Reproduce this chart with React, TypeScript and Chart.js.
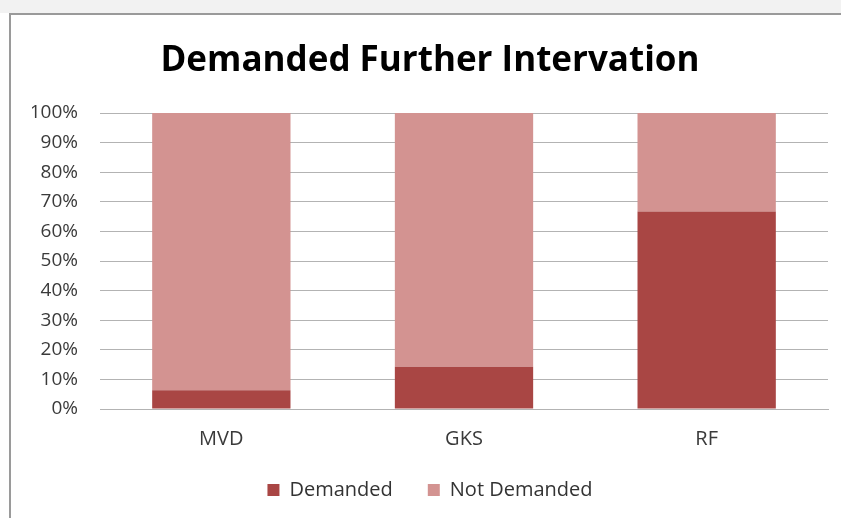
import React, { useEffect, useRef } from "react";
import { Chart, registerables } from "chart.js";
Chart.register(...registerables);

const categories = ["MVD", "GKS", "RF"];
const demanded = [6.3, 14.3, 66.7];
const notDemanded = [93.7, 85.7, 33.3];
const yTicks = [0, 10, 20, 30, 40, 50, 60, 70, 80, 90, 100];
const titleText = "Demanded Further Intervation";

const FONT = "'Open Sans', sans-serif";

export default function App() {
  const ref = useRef<HTMLCanvasElement | null>(null);
  useEffect(() => {
    document.body.style.margin = "0";
    const chart = new Chart(ref.current!, {
      type: "bar",
      data: {
        labels: categories,
        datasets: [
          { label: "Demanded", data: demanded, backgroundColor: "#a94644" },
          { label: "Not Demanded", data: notDemanded, backgroundColor: "#d39391" },
        ],
      },
      options: {
        animation: false,
        responsive: false,
        maintainAspectRatio: false,
        layout: { padding: { left: 32, right: 13, top: 40, bottom: 8 } },
        datasets: { bar: { categoryPercentage: 1, barPercentage: 0.57 } } as any,
        scales: {
          x: {
            stacked: true,
            grid: { display: false, drawTicks: false },
            border: { display: true, color: "#b3b3b3", width: 1 },
            ticks: { color: "#3a3a3a", font: { family: FONT, size: 20 }, padding: 18 },
            afterFit: (s: any) => {
              s.height = 36;
            },
          },
          y: {
            stacked: true,
            min: 0,
            max: 100,
            afterBuildTicks: (s: any) => {
              s.ticks = yTicks.map((v) => ({ value: v }));
            },
            afterFit: (s: any) => {
              s.width = 68;
            },
            grid: { color: "#b3b3b3", drawTicks: false },
            border: { display: false },
            ticks: {
              color: "#3a3a3a",
              font: { family: FONT, size: 19 },
              padding: 22,
              callback: (v: any) => v + "%",
            },
          },
        },
        plugins: {
          title: {
            display: true,
            text: titleText,
            color: "#000",
            font: { family: FONT, size: 35, weight: "bold" },
            padding: { top: 0, bottom: 31 },
          },
          legend: {
            position: "bottom",
            labels: {
              color: "#333",
              font: { family: FONT, size: 20 },
              boxWidth: 12,
              boxHeight: 12,
              padding: 35,
            },
          },
          tooltip: { enabled: false },
        },
      },
    });
    return () => chart.destroy();
  }, []);
  return (
    <div style={{ position: "relative", width: 841, height: 518, background: "#fff", overflow: "hidden" }}>
      <div style={{ position: "absolute", left: 0, top: 0, width: 841, height: 13, background: "#f2f2f2" }} />
      <div
        style={{
          position: "absolute",
          left: 9,
          top: 13,
          width: 900,
          height: 600,
          borderTop: "2px solid #9a9a9a",
          borderLeft: "2px solid #9a9a9a",
          background: "#fff",
        }}
      />
      <canvas ref={ref} width={841} height={518} style={{ position: "absolute", left: 0, top: 0 }} />
    </div>
  );
}
